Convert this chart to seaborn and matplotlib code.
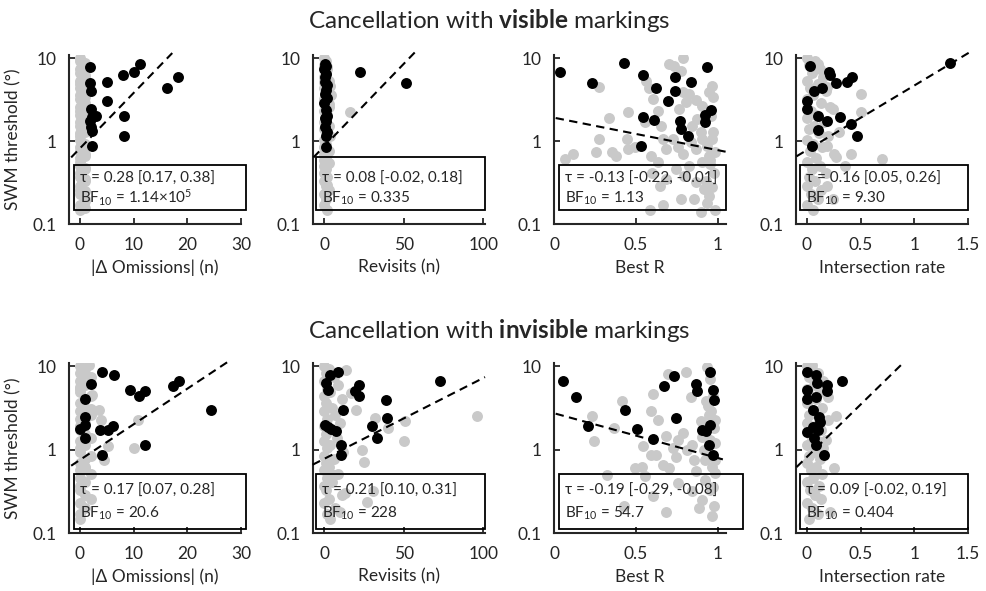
import matplotlib
matplotlib.use("Agg")
import matplotlib.pyplot as plt
import seaborn as sns
import pandas as pd
from matplotlib.patches import Rectangle
from matplotlib.ticker import NullLocator

# SWM thresholds of the dense grey column (shared by the panels)
grey_thr = [10, 9.2, 8.3, 7.5, 6.7, 6.0, 5.4, 4.9, 4.4, 4.0,
            3.6, 3.2, 2.9, 2.6, 2.35, 2.1, 1.9, 1.7, 1.55, 1.4,
            1.27, 1.15, 1.04, 0.94, 0.85, 0.77, 0.7, 0.63, 0.57, 0.51,
            0.46, 0.41, 0.37, 0.33, 0.29, 0.26, 0.23, 0.2, 0.17, 0.15]

# ---- visible markings ----
vis_omis_grey_x = [0, 0, 1, 0, 0, 1, 0, 0, 0, 1, 0, 0, 1, 0, 0, 0, 1, 0, 0, 1,
                   0, 0, 0, 1, 0, 0, 1, 0, 0, 0, 1, 0, 0, 1, 0, 0, 0, 1, 0, 0,
                   1, 1, 1, 1, 1, 1, 1, 1, 1, 1, 1, 1, 1, 1]
vis_omis_grey_y = grey_thr + [8.8, 6.3, 4.7, 3.4, 2.5, 1.8, 1.3, 0.9, 0.66, 0.48, 0.35, 0.25, 0.19, 0.155]
vis_omis_black_x = [1.9, 1.9, 2.0, 2.0, 2.2, 3.1, 1.9, 2.0, 2.2, 2.2, 5.1, 5.1, 8.1, 8.2, 8.25, 10.1, 11.25, 16.25, 18.3]
vis_omis_black_y = [7.9, 5.1, 4.1, 2.45, 1.94, 2.0, 1.77, 1.47, 1.34, 0.87, 5.2, 3.06, 6.3, 2.0, 1.16, 6.8, 8.5, 4.36, 5.9]
vis_omis_fit_x = [-1.6, 17.2]
vis_omis_fit_y = [0.64, 11.6]

vis_rev_grey_x = [0, 1, 0, 2, 1, 0, 3, 1, 0, 2, 4, 0, 1, 3, 0, 2, 1, 0, 3, 0,
                  1, 2, 0, 1, 0, 3, 0, 1, 2, 0, 1, 0, 2, 0, 1, 3, 0, 1, 0, 2,
                  2, 0, 3, 1, 0, 2, 16, 4, 4.5, 3.5, 3]
vis_rev_grey_y = grey_thr + [7.8, 5.2, 2.8, 1.6, 0.6, 0.3, 2.27, 4.7, 3.6, 1.17, 0.55]
vis_rev_black_x = [0.5, 1.0, 0.2, 1.5, 0.8, 0.3, 1.8, 1.2, 0.5, 1.6, 0.2, 1.0, 2.0, 0.5, 1.4, 0.8, 1.9, 1.1, 1.4, 22.3, 51.5]
vis_rev_black_y = [8.5, 8.0, 7.5, 6.5, 6.0, 5.2, 4.8, 4.2, 3.7, 3.3, 2.9, 2.4, 2.0, 1.9, 1.75, 1.5, 1.3, 1.15, 0.85, 6.8, 5.0]
vis_rev_fit_x = [-6.7, 56.9]
vis_rev_fit_y = [0.64, 11.8]

vis_r_grey_x = [0.064, 0.114, 0.274, 0.254, 0.274, 0.334, 0.354, 0.38, 0.454, 0.444, 0.454, 0.494, 0.564, 0.58,
                0.554, 0.604, 0.634, 0.654, 0.594, 0.6, 0.634, 0.684, 0.664, 0.684, 0.644, 0.704, 0.734, 0.784,
                0.774, 0.784, 0.824, 0.764, 0.804, 0.864, 0.844, 0.874, 0.894, 0.724, 0.754, 0.784, 0.834, 0.864,
                0.904, 0.934, 0.964, 0.944, 0.964, 0.944, 0.904, 0.968, 0.824, 0.904, 0.954, 0.974, 0.744, 0.794,
                0.864, 0.914, 0.944, 0.964, 0.854, 0.774, 0.664, 0.894, 0.984, 0.584, 0.934,
                0.95, 0.97, 0.98, 0.93, 0.96]
vis_r_grey_y = [0.62, 0.70, 4.47, 0.74, 1.07, 1.89, 0.74, 0.67, 2.27, 1.08, 0.81, 0.85, 5.4, 4.36,
                1.69, 3.24, 2.34, 1.54, 0.67, 0.42, 0.56, 0.81, 1.07, 0.35, 0.29, 8.5, 8.1, 10.2,
                7.1, 3.96, 3.7, 2.45, 2.95, 3.17, 1.54, 1.86, 1.28, 1.07, 0.85, 0.7, 0.97, 0.81,
                1.07, 0.89, 1.07, 0.67, 4.7, 3.9, 2.7, 3.4, 0.51, 0.56, 0.53, 0.42, 0.46, 0.38,
                0.32, 0.27, 0.22, 0.28, 0.2, 0.2, 0.17, 0.14, 0.15, 0.15, 0.18,
                0.6, 1.3, 0.75, 0.33, 2.0]
vis_r_black_x = [0.034, 0.23, 0.424, 0.54, 0.624, 0.736, 0.736, 0.694, 0.834, 0.936, 0.956, 0.924, 0.924, 0.54, 0.608, 0.768, 0.774, 0.816, 0.53]
vis_r_black_y = [6.8, 5.0, 8.7, 6.3, 4.35, 5.9, 4.0, 3.06, 5.2, 7.8, 2.4, 2.07, 1.69, 1.98, 1.8, 1.77, 1.4, 1.17, 0.89]
vis_r_fit_x = [0.01, 1.047]
vis_r_fit_y = [1.91, 0.75]

vis_int_grey_x = [0, 0.08, 0.02, 0.12, 0.05, 0.15, 0, 0.1, 0.03, 0.18, 0.06, 0, 0.13, 0.22, 0.04, 0.09, 0, 0.16, 0.07, 0.02,
                  0.11, 0.2, 0, 0.06, 0.14, 0.03, 0.25, 0.09, 0, 0.12, 0.05, 0.18, 0.02, 0.08, 0, 0.13, 0.04, 0.1, 0, 0.06,
                  0.5, 0.5, 0.24, 0.41, 0.27, 0.7, 0.36, 0.19, 0.19, 0.24, 0.3, 0.1, 0.13, 0.19]
vis_int_grey_y = grey_thr + [3.7, 2.27, 2.45, 0.7, 0.64, 0.61, 0.5, 0.89, 0.29, 0.2, 1.3, 8.5, 5.1, 4.5]
vis_int_black_x = [0.031, 0.207, 0.22, 0.068, 0.145, 0.268, 0.37, 0.42, 0.006, 0.006, 0.1, 0.19, 0.31, 0.41, 0.1, 0.47, 0.05, 1.33]
vis_int_black_y = [8.0, 6.9, 6.3, 4.06, 4.36, 5.1, 5.2, 5.9, 3.08, 2.45, 2.0, 1.77, 1.98, 1.6, 1.38, 1.17, 0.87, 8.7]
vis_int_fit_x = [-0.095, 1.512]
vis_int_fit_y = [0.66, 11.8]

# ---- invisible markings ----
inv_omis_grey_x = [0, 1, 0, 2, 0, 1, 0, 0, 2, 1, 0, 1, 0, 2, 0, 1, 0, 0, 1, 2,
                   0, 1, 0, 0, 2, 1, 0, 1, 0, 2, 0, 1, 0, 0, 1, 2, 0, 1, 0, 0,
                   1, 0, 2, 1, 4, 10.9, 10, 5.2, 2.3, 3.6, 1.8, 4.5]
inv_omis_grey_y = grey_thr + [8.0, 5.7, 3.1, 0.6, 2.28, 2.3, 1.05, 1.1, 4.5, 3.0, 10.3, 0.75]
inv_omis_black_x = [4.15, 6.3, 2.1, 1.0, 9.3, 11.1, 12.1, 17.4, 18.4, 24.4, 1.0, 0.0, 1.0, 1.0, 3.8, 5.2, 6.2, 4.15, 12.1]
inv_omis_black_y = [8.6, 7.9, 6.2, 4.07, 5.2, 4.34, 5.0, 5.8, 6.7, 3.0, 2.46, 1.77, 2.0, 1.37, 1.73, 1.7, 1.94, 0.87, 1.15]
inv_omis_fit_x = [-1.6, 28.1]
inv_omis_fit_y = [0.644, 11.9]

inv_rev_grey_x = [0, 3, 1, 6, 0, 9, 2, 4, 0, 11, 1, 5, 0, 7, 2, 10, 0, 3, 1, 8,
                  0, 4, 2, 12, 0, 6, 1, 3, 0, 9, 2, 5, 0, 1, 11, 3, 0, 7, 2, 4,
                  14, 17, 20, 24, 25, 32, 40, 51, 50, 96, 31, 27, 10, 13, 6]
inv_rev_grey_y = grey_thr + [9, 4.8, 3.0, 1.0, 0.72, 2.4, 1.8, 2.2, 1.26, 2.55, 0.32, 0.24, 0.18, 0.3, 0.5]
inv_rev_black_x = [1.5, 2.5, 3.9, 8.7, 0.5, 2.5, 4.6, 7.3, 11.9, 10.8, 10.8, 22, 22, 19.2, 29.9, 33, 39, 39.6, 72.8]
inv_rev_black_y = [6.3, 5.2, 7.9, 8.6, 1.99, 1.87, 1.77, 1.66, 3.0, 1.15, 0.87, 6.0, 4.4, 5.1, 1.94, 1.38, 3.96, 2.4, 6.7]
inv_rev_fit_x = [-7.2, 101]
inv_rev_fit_y = [0.662, 7.4]

inv_r_grey_x = [0.234, 0.244, 0.414, 0.364, 0.324, 0.424, 0.494, 0.534, 0.554, 0.544, 0.594, 0.604, 0.594, 0.634,
                0.624, 0.684, 0.664, 0.694, 0.704, 0.744, 0.724, 0.754, 0.784, 0.804, 0.834, 0.814, 0.84, 0.854,
                0.864, 0.894, 0.904, 0.914, 0.924, 0.924, 0.934, 0.94, 0.944, 0.954, 0.964, 0.974, 0.984, 0.984,
                0.98, 0.954, 0.904, 0.974, 0.964, 0.884, 0.684, 0.844, 0.604, 0.754,
                0.95, 0.97, 0.93, 0.96, 0.98, 0.94, 0.97]
inv_r_grey_y = [2.55, 1.26, 3.78, 1.8, 0.5, 0.21, 0.6, 0.63, 0.48, 1.1, 0.87, 4.7, 2.87, 2.28,
                0.87, 1.45, 0.66, 8.1, 0.6, 0.83, 1.05, 1.32, 1.58, 8.4, 4.33, 1.0, 1.15, 0.76,
                0.55, 2.2, 1.44, 1.0, 0.76, 0.44, 9.9, 3.3, 2.6, 1.32, 0.63, 1.8, 1.2, 0.76,
                0.53, 0.33, 0.25, 0.21, 0.16, 0.2, 0.18, 0.32, 0.28, 0.4,
                7.0, 4.4, 3.8, 2.9, 2.3, 0.9, 0.36]
inv_r_black_x = [0.054, 0.134, 0.21, 0.434, 0.504, 0.604, 0.674, 0.734, 0.744, 0.864, 0.874, 0.954, 0.968, 0.974, 0.9, 0.928, 0.954, 0.948, 0.968]
inv_r_black_y = [6.7, 4.26, 1.94, 3.0, 1.77, 1.34, 5.8, 7.7, 2.4, 6.1, 5.0, 8.6, 5.2, 3.96, 1.73, 1.66, 1.99, 1.15, 0.87]
inv_r_fit_x = [0.01, 1.053]
inv_r_fit_y = [2.7, 0.745]

inv_int_grey_x = [0, 0.05, 0.1, 0.02, 0.15, 0.07, 0, 0.12, 0.04, 0.09, 0, 0.14, 0.06, 0.02, 0.11, 0, 0.08, 0.13, 0.03, 0.05,
                  0.1, 0, 0.15, 0.07, 0.02, 0.12, 0, 0.09, 0.04, 0.14, 0.06, 0, 0.11, 0.03, 0.08, 0.13, 0, 0.05, 0.1, 0.02,
                  0.27, 0.2, 0.2, 0.05, 0.18, 0.25, 0.22]
inv_int_grey_y = grey_thr + [2.5, 2.3, 4.3, 10.2, 1.3, 0.6, 0.18]
inv_int_black_x = [0.0, 0.083, 0.099, 0.185, 0.185, 0.006, 0.006, 0.083, 0.33, 0.062, 0.114, 0.006, 0.062, 0.1, 0.068, 0.083, 0.16, 0.123]
inv_int_black_y = [8.6, 7.9, 6.3, 6.0, 5.0, 5.2, 4.0, 4.3, 6.7, 3.0, 2.46, 1.65, 1.87, 1.73, 1.38, 1.15, 0.87, 2.12]
inv_int_fit_x = [-0.095, 0.886]
inv_int_fit_y = [0.62, 10.6]

# stats text
vis_tau = ["τ = 0.28 [0.17, 0.38]", "τ = 0.08 [-0.02, 0.18]", "τ = -0.13 [-0.22, -0.01]", "τ = 0.16 [0.05, 0.26]"]
vis_bf = ["1.14×10$^{5}$", "0.335", "1.13", "9.30"]
inv_tau = ["τ = 0.17 [0.07, 0.28]", "τ = 0.21 [0.10, 0.31]", "τ = -0.19 [-0.29, -0.08]", "τ = 0.09 [-0.02, 0.19]"]
inv_bf = ["20.6", "228", "54.7", "0.404"]

x_labels = ["|Δ Omissions| (n)", "Revisits (n)", "Best R", "Intersection rate"]
x_limits = [(-2, 30), (-7, 101), (0, 1.05), (-0.1, 1.5)]
x_ticks = [[0, 10, 20, 30], [0, 50, 100], [0, 0.5, 1], [0, 0.5, 1, 1.5]]
x_ticklabels = [["0", "10", "20", "30"], ["0", "50", "100"], ["0", "0.5", "1"], ["0", "0.5", "1", "1.5"]]

sns.set_style("ticks")
plt.rcParams["font.family"] = ["Lato", "DejaVu Sans"]
plt.rcParams["mathtext.fontset"] = "custom"
plt.rcParams["mathtext.rm"] = "Lato"
plt.rcParams["mathtext.it"] = "Lato:italic"
plt.rcParams["mathtext.bf"] = "Lato:bold"

GREY = "#c9c9c9"

fig = plt.figure(figsize=(9.86, 5.91), dpi=100)

lefts = [0.070, 0.3174, 0.5619, 0.8073]
width = 0.1745
# box (x0, x1) per column, in axes fraction
box_x = [(0.03, 1.03), (0.017, 1.0), (0.03, 1.0), (0.025, 1.0)]
box_x_inv = [(0.03, 1.03), (0.017, 1.0), (0.028, 1.1), (0.025, 1.0)]


def draw_panel(ax, gx, gy, bx, by, fx, fy, col, tau, bf, box, ytext, ylabel):
    ax.set_yscale("log")
    grey = pd.DataFrame({"x": gx, "y": gy})
    black = pd.DataFrame({"x": bx, "y": by})
    sns.scatterplot(data=grey, x="x", y="y", ax=ax, color=GREY, s=62, linewidth=0, zorder=2)
    sns.scatterplot(data=black, x="x", y="y", ax=ax, color="black", s=62, linewidth=0, zorder=3)
    ax.plot(fx, fy, color="black", lw=1.5, ls=(0, (4, 2.6)), clip_on=False, zorder=4)

    ax.set_ylim(0.1, 11)
    ax.set_yticks([0.1, 1, 10])
    ax.set_yticklabels(["0.1", "1", "10"])
    ax.yaxis.set_minor_locator(NullLocator())
    ax.set_xlim(*x_limits[col])
    ax.set_xticks(x_ticks[col])
    ax.set_xticklabels(x_ticklabels[col])
    ax.tick_params(direction="in", length=4, width=1.3, labelsize=12.5, pad=9)
    sns.despine(ax=ax)
    for s in ["left", "bottom"]:
        ax.spines[s].set_linewidth(1.5)
    ax.set_xlabel(x_labels[col], fontsize=12.5, labelpad=5)
    if ylabel:
        ax.set_ylabel("SWM threshold (°)", fontsize=12.5, labelpad=8)
    else:
        ax.set_ylabel("")

    x0, y0, x1, y1 = box
    ax.add_patch(Rectangle((x0, y0), x1 - x0, y1 - y0, transform=ax.transAxes,
                           facecolor="none", edgecolor="black", lw=1.3, clip_on=False, zorder=5))
    ax.text(x0 + 0.035, ytext[0], tau, transform=ax.transAxes, fontsize=11, va="center", zorder=6)
    ax.text(x0 + 0.035, ytext[1], "BF$_{10}$ = " + bf, transform=ax.transAxes, fontsize=11, va="center", zorder=6)


vis_data = [
    (vis_omis_grey_x, vis_omis_grey_y, vis_omis_black_x, vis_omis_black_y, vis_omis_fit_x, vis_omis_fit_y),
    (vis_rev_grey_x, vis_rev_grey_y, vis_rev_black_x, vis_rev_black_y, vis_rev_fit_x, vis_rev_fit_y),
    (vis_r_grey_x, vis_r_grey_y, vis_r_black_x, vis_r_black_y, vis_r_fit_x, vis_r_fit_y),
    (vis_int_grey_x, vis_int_grey_y, vis_int_black_x, vis_int_black_y, vis_int_fit_x, vis_int_fit_y),
]
inv_data = [
    (inv_omis_grey_x, inv_omis_grey_y, inv_omis_black_x, inv_omis_black_y, inv_omis_fit_x, inv_omis_fit_y),
    (inv_rev_grey_x, inv_rev_grey_y, inv_rev_black_x, inv_rev_black_y, inv_rev_fit_x, inv_rev_fit_y),
    (inv_r_grey_x, inv_r_grey_y, inv_r_black_x, inv_r_black_y, inv_r_fit_x, inv_r_fit_y),
    (inv_int_grey_x, inv_int_grey_y, inv_int_black_x, inv_int_black_y, inv_int_fit_x, inv_int_fit_y),
]

for col in range(4):
    ax = fig.add_axes([lefts[col], 0.6205, width, 0.2865])
    top = 0.40 if col == 1 else 0.35
    draw_panel(ax, *vis_data[col], col, vis_tau[col], vis_bf[col],
               (box_x[col][0], 0.085, box_x[col][1], top), (0.27, 0.155), col == 0)

    ax = fig.add_axes([lefts[col], 0.0976, width, 0.2887])
    draw_panel(ax, *inv_data[col], col, inv_tau[col], inv_bf[col],
               (box_x_inv[col][0], 0.025, box_x_inv[col][1], 0.35), (0.25, 0.115), col == 0)

fig.text(0.3124, 0.952, "Cancellation with $\\mathbf{visible}$ markings", ha="left", va="baseline", fontsize=17.5)
fig.text(0.3124, 0.4276, "Cancellation with $\\mathbf{invisible}$ markings", ha="left", va="baseline", fontsize=17.5)

fig.savefig("out.png", dpi=100)
